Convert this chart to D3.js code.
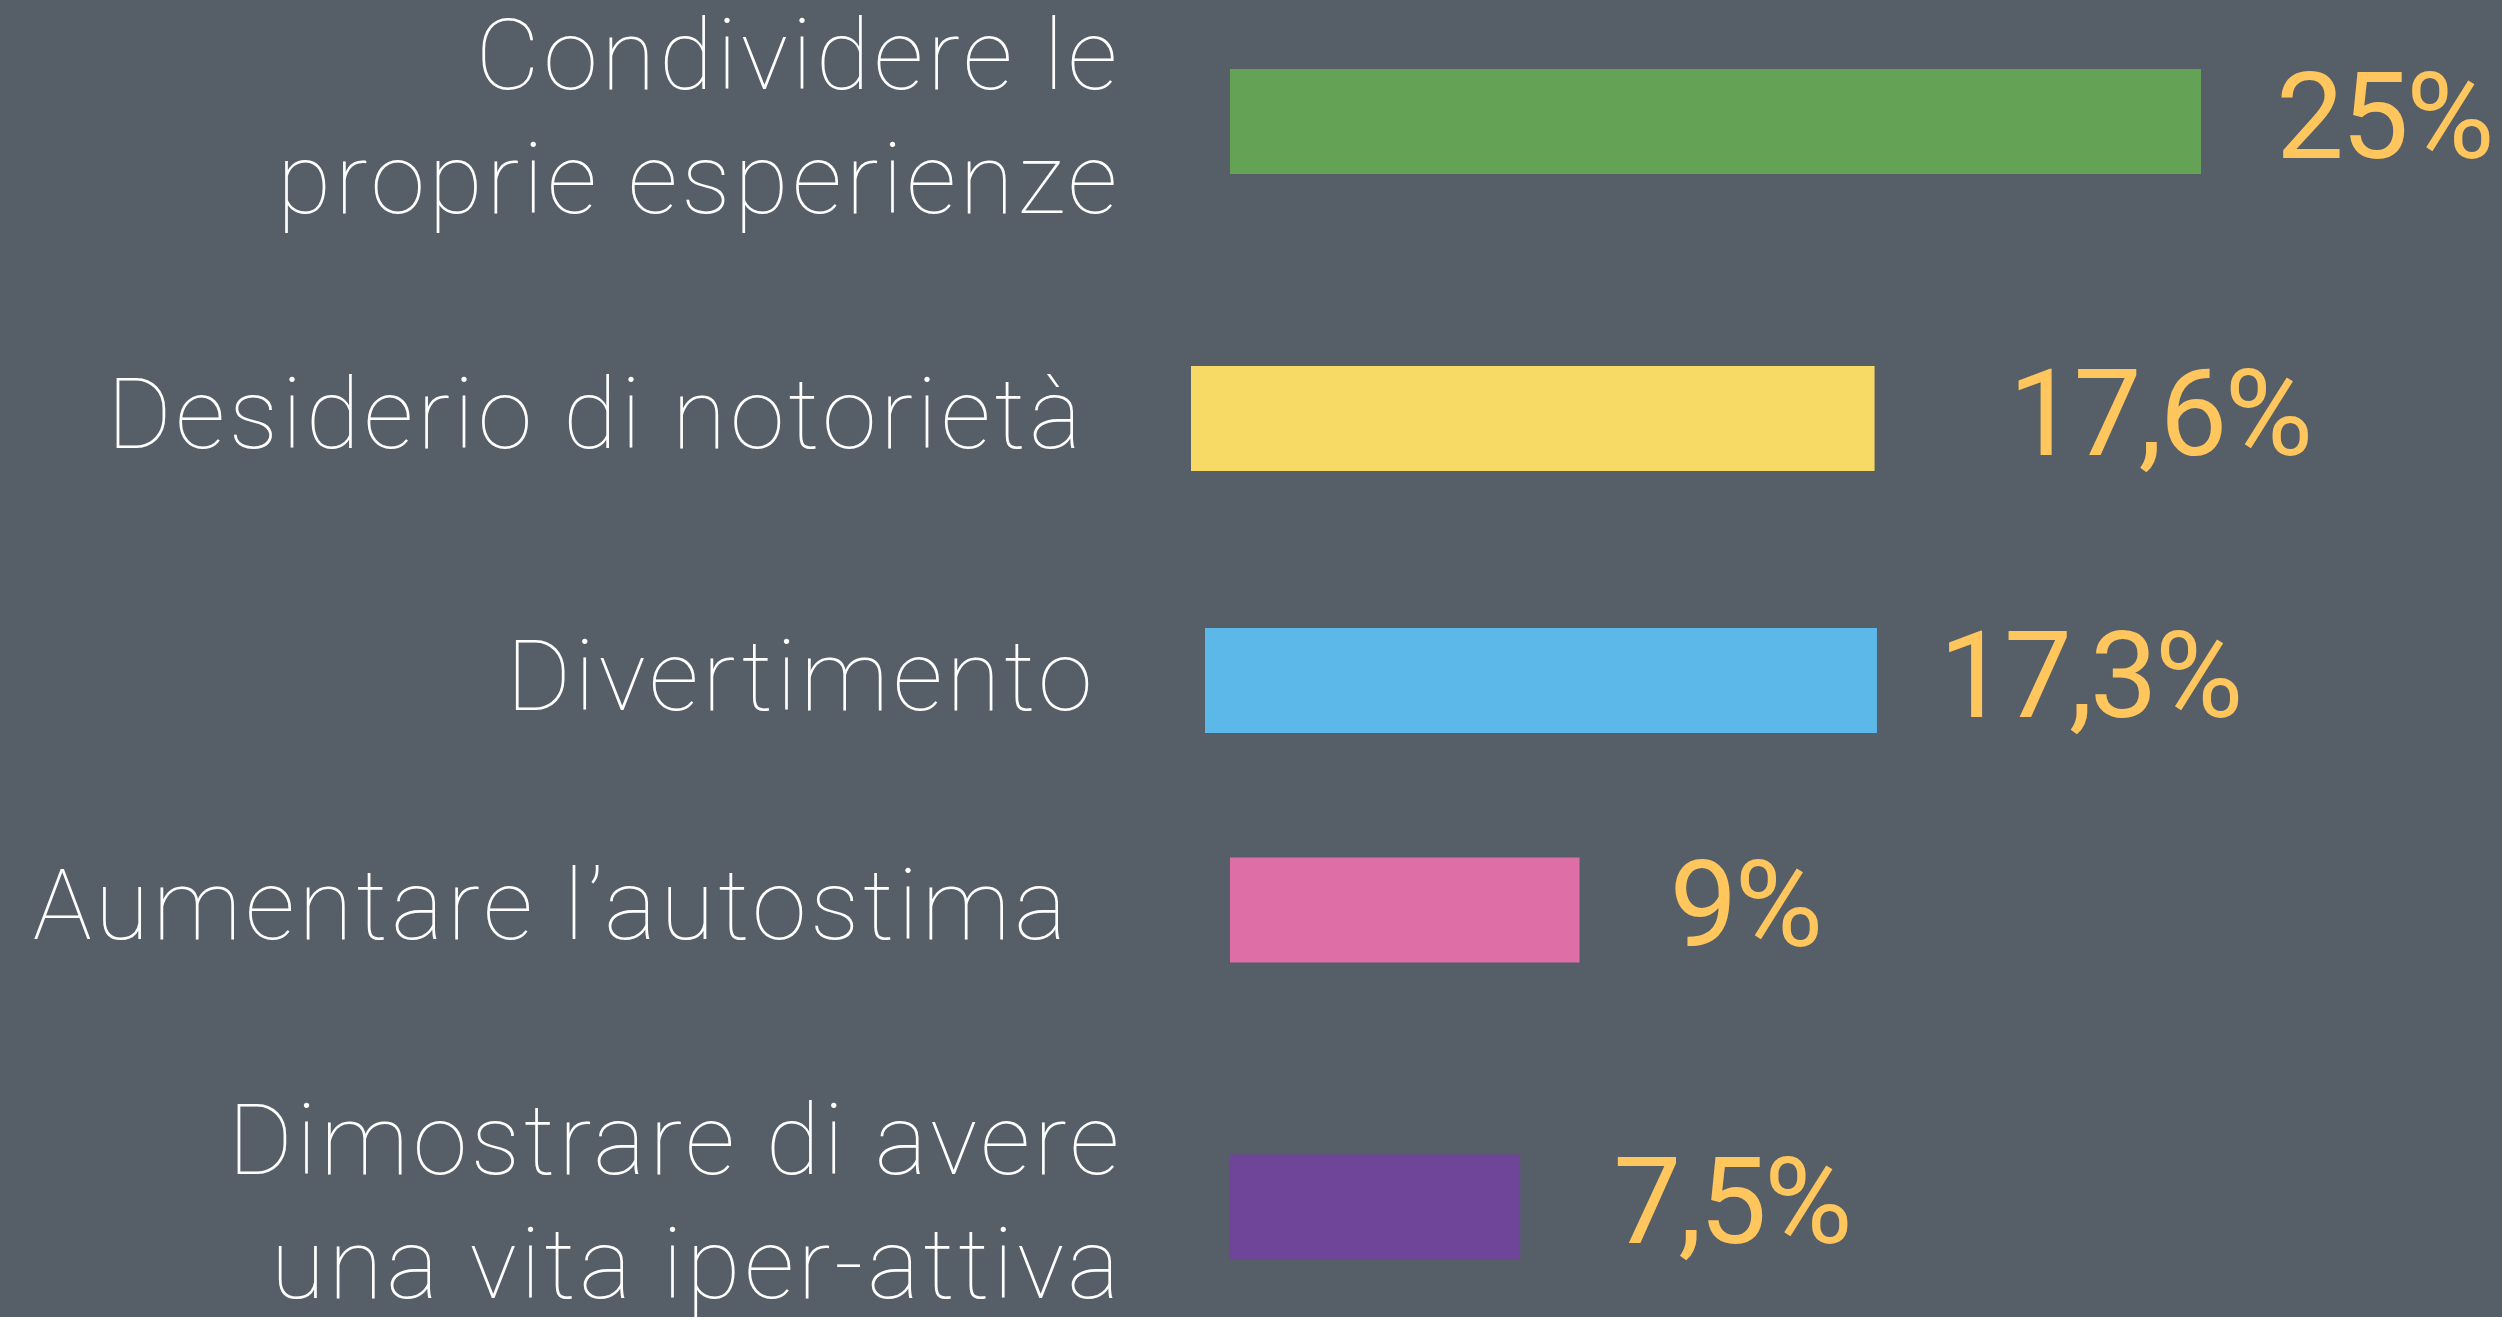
<!DOCTYPE html>
<html>
<head>
<meta charset="utf-8">
<script src="https://cdn.jsdelivr.net/npm/d3@7"></script>
<style>
  html, body { margin: 0; padding: 0; background: #565e67; overflow: hidden; }
  svg { display: block; }
</style>
</head>
<body>
<svg id="chart"></svg>
<script>
// Motivazioni per la condivisione online (percentuali)
const categories = [
  "Condividere le\nproprie esperienze",
  "Desiderio di notorietà",
  "Divertimento",
  "Aumentare l’autostima",
  "Dimostrare di avere\nuna vita iper-attiva"
];
const values = [25, 17.6, 17.3, 9, 7.5];
const valueLabels = ["25%", "17,6%", "17,3%", "9%", "7,5%"];
const barColors = ["#64a255", "#f7d966", "#5cb8e9", "#de6ea6", "#6e4598"];

// Layout
const W = 2502, H = 1317;
const barHeight = 105;
const lineHeight = 124;

const svg = d3.select("#chart").attr("width", W).attr("height", H);
svg.append("rect").attr("width", W).attr("height", H).attr("fill", "#565e67");

// Row centres, bar origins and label anchors of the hand-set layout
const rowY = d3.scaleOrdinal().domain(categories).range([121.5, 418.5, 680.5, 910, 1207]);
const barStart = d3.scaleOrdinal().domain(categories).range([1230, 1191, 1205, 1230, 1229]);
const labelRight = d3.scaleOrdinal().domain(categories).range([1121, 1085, 1096, 1070, 1123]);
const valueGap = d3.scaleOrdinal().domain(categories).range([75, 134, 62, 90, 93]);
const color = d3.scaleOrdinal().domain(categories).range(barColors);

// Bar length: percentage to pixels
const x = d3.scaleLinear().domain([0, 25]).range([0, 971]);

const rows = categories.map((c, i) => ({ cat: c, value: values[i], label: valueLabels[i] }));

const g = svg.append("g");

// Bars
g.selectAll("rect.bar")
  .data(rows)
  .join("rect")
  .attr("class", "bar")
  .attr("x", d => barStart(d.cat))
  .attr("y", d => rowY(d.cat) - barHeight / 2)
  .attr("width", d => x(d.value))
  .attr("height", barHeight)
  .attr("fill", d => color(d.cat));

// Value labels
g.selectAll("text.value")
  .data(rows)
  .join("text")
  .attr("class", "value")
  .attr("x", d => barStart(d.cat) + x(d.value) + valueGap(d.cat))
  .attr("y", d => rowY(d.cat) + 36)
  .attr("fill", "#fec65c")
  .attr("font-family", "Roboto, 'Open Sans', sans-serif")
  .attr("font-weight", 400)
  .attr("font-size", 121)
  .attr("letter-spacing", -3)
  .text(d => d.label);

// Category labels (one or two lines, right aligned)
const catText = g.selectAll("text.cat")
  .data(rows)
  .join("text")
  .attr("class", "cat")
  .attr("text-anchor", "end")
  .attr("fill", "#ffffff")
  .attr("font-family", "Roboto, 'Open Sans', sans-serif")
  .attr("font-weight", 100)
  .attr("font-size", 99)
  .attr("letter-spacing", 3.6);

catText.each(function (d) {
  const lines = d.cat.split("\n");
  const n = lines.length;
  d3.select(this).selectAll("tspan")
    .data(lines)
    .join("tspan")
    .attr("x", labelRight(d.cat))
    .attr("y", (l, i) => rowY(d.cat) + 29 + (i - (n - 1) / 2) * lineHeight)
    .text(l => l);
});
</script>
</body>
</html>
